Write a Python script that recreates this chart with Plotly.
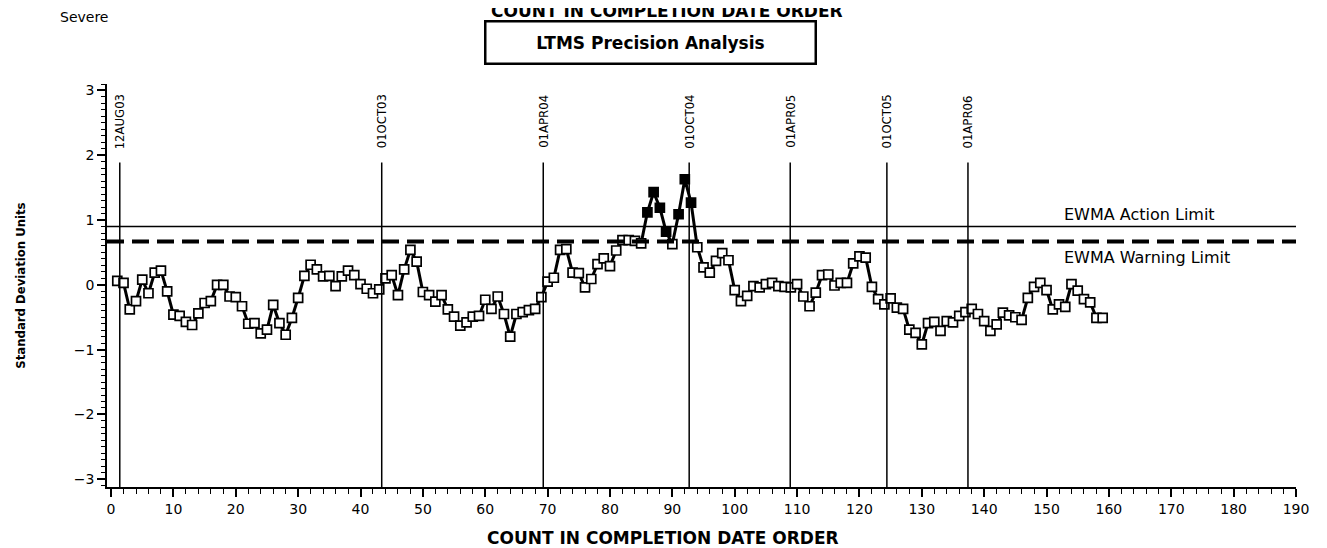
import plotly.graph_objects as go

# contagem na ordem de data de conclusao e valores EWMA (unidades de desvio padrao)
contagem = list(range(1, 160))
ewma = [
    0.06, 0.03, -0.38, -0.25, 0.08, -0.13, 0.19, 0.22, -0.10, -0.46,
    -0.48, -0.57, -0.62, -0.44, -0.28, -0.25, 0.00, 0.00, -0.18, -0.19,
    -0.33, -0.60, -0.59, -0.75, -0.69, -0.31, -0.59, -0.77, -0.51, -0.20,
    0.14, 0.31, 0.24, 0.13, 0.14, -0.02, 0.13, 0.22, 0.15, 0.01,
    -0.06, -0.13, -0.07, 0.10, 0.15, -0.16, 0.24, 0.54, 0.36, -0.11,
    -0.16, -0.26, -0.16, -0.38, -0.49, -0.63, -0.58, -0.49, -0.48, -0.23,
    -0.37, -0.18, -0.45, -0.80, -0.45, -0.42, -0.39, -0.37, -0.19, 0.05,
    0.11, 0.54, 0.55, 0.19, 0.18, -0.04, 0.09, 0.32, 0.41, 0.29,
    0.53, 0.69, 0.69, 0.68, 0.64, 1.12, 1.43, 1.19, 0.82, 0.63,
    1.09, 1.63, 1.27, 0.58, 0.27, 0.19, 0.37, 0.49, 0.38, -0.08,
    -0.25, -0.17, -0.02, -0.04, 0.01, 0.03, -0.02, -0.03, -0.04, 0.01,
    -0.18, -0.33, -0.12, 0.15, 0.16, -0.01, 0.03, 0.03, 0.33, 0.44,
    0.42, -0.03, -0.22, -0.30, -0.21, -0.35, -0.37, -0.69, -0.74, -0.92,
    -0.59, -0.57, -0.71, -0.56, -0.58, -0.48, -0.42, -0.37, -0.45, -0.56,
    -0.71, -0.61, -0.43, -0.47, -0.50, -0.54, -0.20, -0.03, 0.03, -0.08,
    -0.38, -0.30, -0.34, 0.01, -0.09, -0.22, -0.27, -0.51, -0.51,
]

# limites EWMA
limite_acao = 0.9
limite_alerta = 0.67

# linhas verticais de data (posicao na contagem)
datas_pos = [1.4, 43.4, 69.3, 92.7, 108.9, 124.4, 137.4]
datas_txt = ['12AUG03', '01OCT03', '01APR04', '01OCT04', '01APR05', '01OCT05', '01APR06']

fonte = 'DejaVu Sans'
fonte_estreita = 'DejaVu Sans Condensed, DejaVu Sans'

# pontos acima do limite ficam preenchidos
cores = ['black' if v > 0.75 else 'white' for v in ewma]

fig = go.Figure()
fig.add_trace(go.Scatter(
    x=contagem, y=ewma, mode='lines+markers',
    line=dict(color='black', width=3),
    marker=dict(symbol='square', size=9, color=cores,
                line=dict(color='black', width=1.7)),
    showlegend=False, cliponaxis=False,
))

# limite de acao (solido) e de alerta (tracejado)
fig.add_shape(type='line', xref='x', yref='y', x0=-0.65, x1=190,
              y0=limite_acao, y1=limite_acao, line=dict(color='black', width=1.5))
fig.add_shape(type='line', xref='x', yref='y', x0=-0.65, x1=190,
              y0=limite_alerta, y1=limite_alerta,
              line=dict(color='black', width=4, dash='17px,8px'))

for pos, txt in zip(datas_pos, datas_txt):
    fig.add_shape(type='line', xref='x', yref='y', x0=pos, x1=pos,
                  y0=-3.12, y1=1.89, line=dict(color='black', width=1.5))
    fig.add_annotation(x=pos, y=2.52, text=txt, showarrow=False, textangle=-90,
                       xanchor='center', yanchor='middle',
                       font=dict(family=fonte_estreita, size=13, color='black'))

fig.add_annotation(x=152.5, y=1.08, text='EWMA Action Limit', showarrow=False,
                   xanchor='left', yanchor='middle',
                   font=dict(family=fonte, size=16, color='black'))
fig.add_annotation(x=152.5, y=0.42, text='EWMA Warning Limit', showarrow=False,
                   xanchor='left', yanchor='middle',
                   font=dict(family=fonte, size=16, color='black'))

# titulos do topo
fig.add_annotation(xref='paper', yref='paper', x=0.471, y=1.18,
                   text='<b>COUNT IN COMPLETION DATE ORDER</b>', showarrow=False,
                   xanchor='center', yanchor='middle',
                   font=dict(family=fonte, size=17, color='black'))
fig.add_annotation(xref='paper', yref='paper', x=-0.041, y=1.166,
                   text='Severe', showarrow=False, xanchor='left', yanchor='middle',
                   font=dict(family=fonte, size=14, color='black'))
fig.add_annotation(xref='paper', yref='paper', x=0.4575, y=1.102,
                   text='<b>LTMS Precision Analysis</b>', showarrow=False,
                   xanchor='center', yanchor='middle', width=328, height=40,
                   bordercolor='black', borderwidth=2.5, borderpad=0,
                   font=dict(family=fonte, size=17, color='black'))

# titulos dos eixos
fig.add_annotation(xref='paper', yref='paper', x=0.468, y=-0.127,
                   text='<b>COUNT IN COMPLETION DATE ORDER</b>', showarrow=False,
                   xanchor='center', yanchor='middle',
                   font=dict(family=fonte, size=17, color='black'))
fig.add_annotation(xref='paper', yref='paper', x=-0.073, y=0.5,
                   text='<b>Standard Deviation Units</b>', showarrow=False,
                   textangle=-90, xanchor='center', yanchor='middle',
                   font=dict(family=fonte_estreita, size=13, color='black'))

fig.update_layout(
    width=1319, height=540,
    margin=dict(l=99, r=31, t=76, b=61),
    plot_bgcolor='white', paper_bgcolor='white',
    font=dict(family=fonte, size=14, color='black'),
    xaxis=dict(
        range=[-0.65, 190], tickmode='linear', tick0=0, dtick=10,
        showgrid=False, zeroline=False, showline=True, linecolor='black', linewidth=1.5,
        ticks='outside', ticklen=8, tickwidth=1.5, tickcolor='black',
        minor=dict(dtick=2, ticks='outside', ticklen=5, tickwidth=1.2, tickcolor='black'),
    ),
    yaxis=dict(
        range=[-3.12, 3.1], tickmode='array', tickvals=[-3, -2, -1, 0, 1, 2, 3],
        ticktext=['−3', '−2', '−1', '0', '1', '2', '3'],
        showgrid=False, zeroline=False, showline=True, linecolor='black', linewidth=1.5,
        ticks='outside', ticklen=8, tickwidth=1.5, tickcolor='black',
        minor=dict(dtick=0.1, ticks='outside', ticklen=4, tickwidth=1, tickcolor='black'),
    ),
)

fig.write_html('out.html')
